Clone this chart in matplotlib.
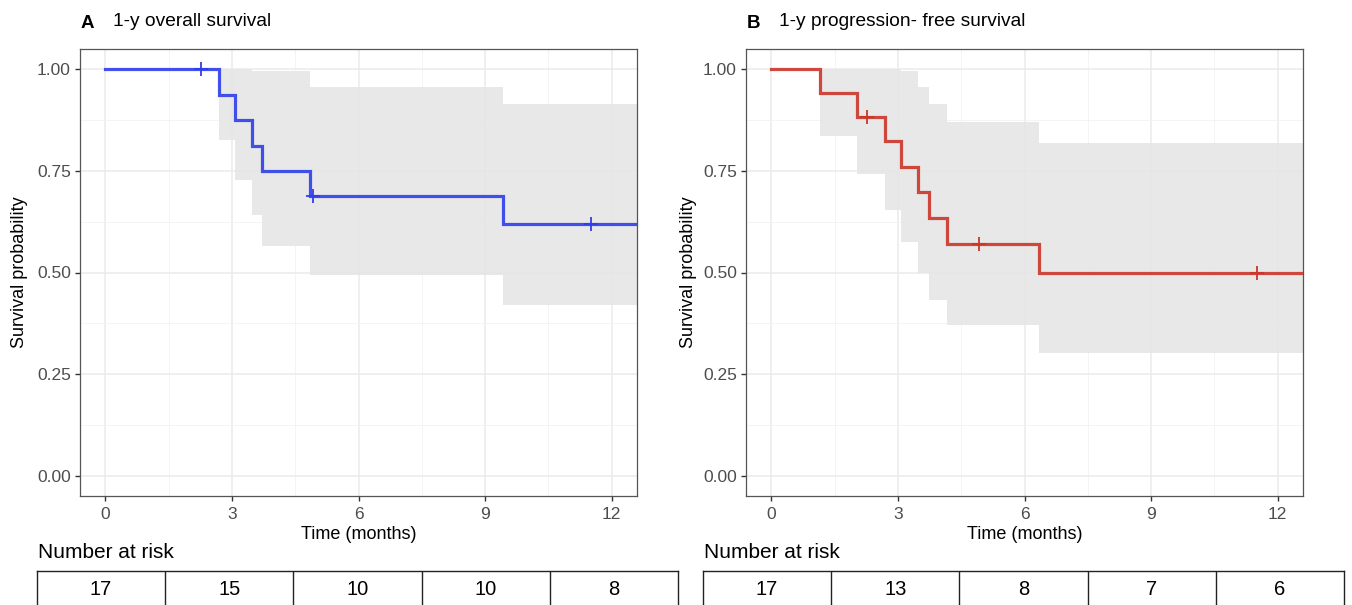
import matplotlib
matplotlib.use("Agg")
import matplotlib.pyplot as plt
import numpy as np

plt.rcParams['font.family'] = ['Liberation Sans', 'DejaVu Sans']

# ---------------- data ----------------
# Panel A: overall survival (Kaplan-Meier steps)
os_times = [0.0, 2.70, 3.08, 3.48, 3.71, 4.84, 9.43]
os_surv = [1.0, 0.9375, 0.875, 0.8125, 0.75, 0.6875, 0.61875]
os_upper = [1.0, 1.0, 1.0, 0.997, 0.997, 0.956, 0.914]
os_lower = [1.0, 0.827, 0.727, 0.641, 0.565, 0.494, 0.419]
os_censor = [2.26, 4.91, 11.51]

# Panel B: progression-free survival
pfs_times = [0.0, 1.155, 2.02, 2.69, 3.07, 3.47, 3.73, 4.16, 6.35]
pfs_surv = [1.0, 0.941, 0.882, 0.8235, 0.760, 0.697, 0.633, 0.570, 0.4985]
pfs_upper = [1.0, 1.0, 1.0, 1.0, 0.997, 0.957, 0.915, 0.870, 0.819]
pfs_lower = [1.0, 0.836, 0.743, 0.653, 0.575, 0.499, 0.433, 0.371, 0.301]
pfs_censor = [2.26, 4.92, 11.5]

risk_times = [0, 3, 6, 9, 12]
os_risk = [17, 15, 10, 10, 8]
pfs_risk = [17, 13, 8, 7, 6]

x_end = 12.6

W, H = 1352, 605
fig = plt.figure(figsize=(W / 100, H / 100), dpi=100)


def fx(px):
    return px / W


def fy(py):
    return 1 - py / H


def step_value(times, vals, t):
    idx = np.searchsorted(times, t, side='right') - 1
    return vals[idx]


def km_panel(ax_left_px, times, surv, upper, lower, censor, color, letter, title,
             risk, table_left_px, table_right_px, ylab_x_px):
    ax = fig.add_axes([fx(ax_left_px), fy(496), fx(557), (496 - 49) / H])
    ax.set_xlim(-0.6, 12.6)
    ax.set_ylim(-0.05, 1.05)
    ax.set_xticks([0, 3, 6, 9, 12])
    ax.set_yticks([0, 0.25, 0.5, 0.75, 1.0])
    ax.set_yticklabels(['0.00', '0.25', '0.50', '0.75', '1.00'])
    ax.set_xticks([1.5, 4.5, 7.5, 10.5], minor=True)
    ax.set_yticks([0.125, 0.375, 0.625, 0.875], minor=True)
    ax.grid(which='major', color='#EBEBEB', linewidth=1.1, zorder=0)
    ax.grid(which='minor', color='#F2F2F2', linewidth=0.6, zorder=0)
    ax.tick_params(which='minor', length=0)
    ax.tick_params(which='major', length=3.5, width=1.0, color='#333333',
                   labelsize=12.5, labelcolor='#4D4D4D', pad=3)
    ax.tick_params(axis='x', which='major', pad=4.5)
    for s in ax.spines.values():
        s.set_color('#555555')
        s.set_linewidth(0.9)
    ax.set_axisbelow(True)

    tx = list(times) + [x_end]
    ax.fill_between(tx, list(upper) + [upper[-1]], list(lower) + [lower[-1]],
                    step='post', color='#E6E6E6', alpha=0.9, linewidth=0, zorder=1)
    ax.step(tx, list(surv) + [surv[-1]], where='post', color=color,
            linewidth=2.3, alpha=0.9, zorder=3, solid_joinstyle='miter')
    cy = [step_value(times, surv, c) for c in censor]
    ax.plot(censor, cy, linestyle='none', marker='|', markersize=10,
            markeredgewidth=1.3, color=color, zorder=4)
    ax.plot(censor, cy, linestyle='none', marker='_', markersize=10,
            markeredgewidth=1.3, color=color, zorder=4)

    ax.set_xlabel('Time (months)', fontsize=13, labelpad=3)
    ax.set_ylabel('')
    fig.text(fx(ylab_x_px), fy(272), 'Survival probability', rotation=90,
             fontsize=13, ha='center', va='center')

    fig.text(fx(ax_left_px + 1), fy(23), letter, fontsize=13.5, fontweight='bold',
             ha='left', va='center')
    fig.text(fx(ax_left_px + 33), fy(22), title, fontsize=13.8, ha='left', va='center')

    # number at risk table
    fig.text(fx(table_left_px + 1), fy(553), 'Number at risk', fontsize=15,
             ha='left', va='center')
    tab = fig.add_axes([fx(table_left_px), 0, fx(table_right_px - table_left_px),
                        (H - 571) / H])
    tab.set_xlim(0, len(risk))
    tab.set_ylim(0, 1)
    tab.set_xticks([])
    tab.set_yticks([])
    tab.spines['bottom'].set_visible(False)
    for s in ['top', 'left', 'right']:
        tab.spines[s].set_color('#222222')
        tab.spines[s].set_linewidth(1.0)
    for i in range(1, len(risk)):
        tab.axvline(i, color='#222222', linewidth=1.0)
    for i, (t, n) in enumerate(zip(risk_times, risk)):
        tab.text(i + 0.5, 0.45, str(n), ha='center', va='center', fontsize=14.5)
    return ax


km_panel(80, os_times, os_surv, os_upper, os_lower, os_censor, '#2F3EEB', 'A',
         '1-y overall survival', os_risk, 37, 678, 20)
km_panel(746, pfs_times, pfs_surv, pfs_upper, pfs_lower, pfs_censor, '#CC3529', 'B',
         '1-y progression- free survival', pfs_risk, 703, 1344, 688)

fig.savefig('out.png', dpi=100)
